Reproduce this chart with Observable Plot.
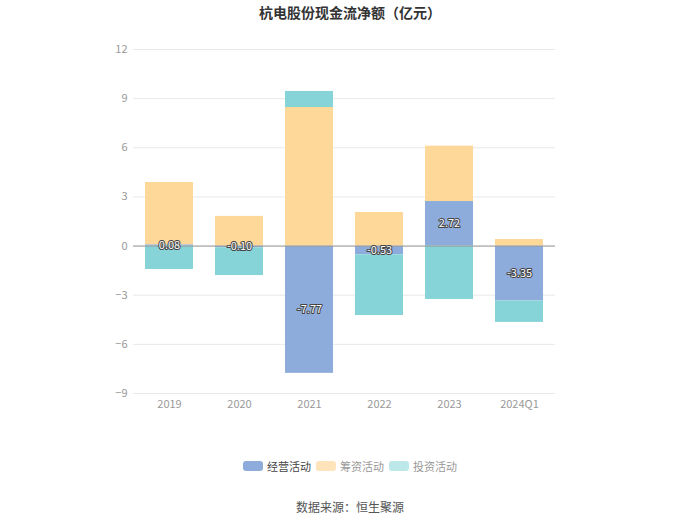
<!DOCTYPE html>
<html><head><meta charset="utf-8">
<script src="https://cdn.jsdelivr.net/npm/d3@7"></script>
<script src="https://cdn.jsdelivr.net/npm/@observablehq/plot@0.6"></script>
<style>
body{margin:0;background:#fff;font-family:"Noto Sans CJK SC","Noto Sans",sans-serif;}
#wrap{width:700px;height:524px;position:relative;}
#title{height:24px;line-height:24px;text-align:center;font-size:14px;font-weight:bold;color:#333;}
#legend{display:flex;justify-content:center;gap:0;margin-top:39px;height:14px;font-size:11px;line-height:14px;}
.item{display:flex;align-items:center;margin:0 2.5px;}
.sw{width:20px;height:10px;border-radius:3px;margin-right:4px;}
#src{margin-top:26px;text-align:center;font-size:12px;color:#555;line-height:16px;}
</style></head>
<body><div id="wrap">
<div id="title">杭电股份现金流净额（亿元）</div>
<div id="chart"></div>
<div id="legend"></div>
<div id="src">数据来源：恒生聚源</div>
</div>
<script>
const years = ["2019","2020","2021","2022","2023","2024Q1"];
const seriesNames = ["经营活动","筹资活动","投资活动"];
const operating = [0.08,-0.10,-7.77,-0.53,2.72,-3.35];
const financing = [3.80,1.81,8.46,2.05,3.38,0.40];
const investing = [-1.43,-1.70,0.98,-3.71,-3.26,-1.31];
const yTicks = [-9,-6,-3,0,3,6,9,12];
const colors = ["#8dacdb","#fed899","#86d4d8"];
const legendColors = ["#8dacdb","#fee3bb","#bde8ea"];
const legendText = ["#444","#999","#999"];

const rows = [];
years.forEach((y,i)=>{
  rows.push({year:y, series:seriesNames[0], value:operating[i]});
  rows.push({year:y, series:seriesNames[1], value:financing[i]});
  rows.push({year:y, series:seriesNames[2], value:investing[i]});
});
const labels = years.map((y,i)=>({year:y, value:operating[i]}));

const chart = Plot.plot({
  width:700, height:396,
  marginTop:25, marginBottom:27, marginLeft:133, marginRight:145,
  style:{fontFamily:'"Noto Sans CJK SC","Noto Sans",sans-serif', background:"#fff"},
  x:{domain:years, paddingInner:0.32, paddingOuter:0.16, label:null},
  y:{domain:[-9,12], label:null},
  color:{domain:seriesNames, range:colors},
  marks:[
    Plot.gridY(yTicks, {stroke:"#e8e8e8", strokeOpacity:1}),
    Plot.axisY(yTicks, {tickSize:0, tickPadding:6, fill:"#999", fontSize:11, label:null}),
    Plot.axisX({tickSize:0, tickPadding:7, fill:"#999", fontSize:11, label:null}),
    Plot.barY(rows, {x:"year", y:"value", fill:"series"}),
    Plot.ruleY([0], {stroke:"#999"}),
    Plot.text(labels, {x:"year", y:d=>d.value/2, text:d=>d.value.toFixed(2), fill:"#fff", stroke:"#444", strokeWidth:2, fontSize:11})
  ]
});
document.getElementById("chart").appendChild(chart);

const lg = document.getElementById("legend");
seriesNames.forEach((s,i)=>{
  const it = document.createElement("div"); it.className="item";
  const sw = document.createElement("div"); sw.className="sw"; sw.style.background=legendColors[i];
  const t = document.createElement("span"); t.textContent=s; t.style.color=legendText[i];
  it.appendChild(sw); it.appendChild(t); lg.appendChild(it);
});
</script>
</body></html>
